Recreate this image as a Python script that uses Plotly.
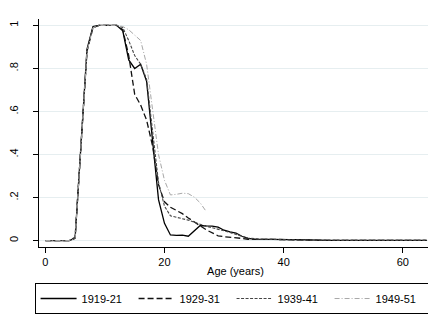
"""Proportion in school by age, four census cohorts (Stata-style line chart)."""

import plotly.graph_objects as go

AGES = list(range(0, 65))
AGES_1949 = list(range(0, 28))

TAIL = [0.006, 0.006, 0.005, 0.005, 0.005, 0.004, 0.004, 0.003, 0.002, 0.002] + [0.001] * 19

P_1919 = [0, 0, 0, 0, 0, 0.01, 0.45, 0.89, 0.995, 1.0,
          1.0, 1.0, 1.0, 0.975, 0.84, 0.80, 0.82, 0.74, 0.45, 0.19,
          0.08, 0.026, 0.024, 0.025, 0.02, 0.045, 0.07, 0.068, 0.067, 0.062,
          0.048, 0.04, 0.035, 0.02, 0.01, 0.007] + TAIL
P_1929 = [0, 0, 0, 0, 0, 0.015, 0.44, 0.88, 0.99, 1.0,
          1.0, 1.0, 1.0, 0.98, 0.86, 0.68, 0.63, 0.56, 0.44, 0.26,
          0.18, 0.155, 0.14, 0.125, 0.105, 0.085, 0.068, 0.05, 0.035, 0.022,
          0.018, 0.016, 0.013, 0.01, 0.006, 0.005] + TAIL
P_1939 = [0, 0, 0, 0, 0, 0.01, 0.43, 0.88, 0.99, 1.0,
          1.0, 1.0, 1.0, 0.99, 0.93, 0.86, 0.82, 0.75, 0.50, 0.27,
          0.16, 0.115, 0.108, 0.103, 0.095, 0.085, 0.075, 0.066, 0.06, 0.054,
          0.045, 0.037, 0.03, 0.02, 0.012, 0.008] + TAIL
P_1949 = [0, 0, 0, 0, 0, 0.01, 0.44, 0.88, 0.99, 1.0,
          1.0, 1.0, 1.0, 0.995, 0.98, 0.955, 0.93, 0.82, 0.62, 0.40,
          0.28, 0.212, 0.215, 0.22, 0.218, 0.202, 0.175, 0.135]

X_TICKS = [0, 20, 40, 60]
Y_TICKS = [0, 0.2, 0.4, 0.6, 0.8, 1.0]
Y_LABELS = ['0', '.2', '.4', '.6', '.8', '1']

FONT = 'Liberation Sans, Arial, sans-serif'

SERIES = [
    ('1919-21', AGES, P_1919, dict(color='#000000', width=1.3, dash='solid')),
    ('1929-31', AGES, P_1929, dict(color='#111111', width=1.3, dash='6px,3px')),
    ('1939-41', AGES, P_1939, dict(color='#444444', width=1.1, dash='3px,1.5px')),
    ('1949-51', AGES_1949, P_1949, dict(color='#a8a8a8', width=1.0, dash='5px,2px,1px,2px')),
]

fig = go.Figure()
for name, x, y, line in SERIES:
    fig.add_trace(go.Scatter(x=x, y=y, mode='lines', name=name, line=line))

fig.update_layout(
    width=436,
    height=317,
    margin=dict(l=31, r=12, t=11, b=72),
    paper_bgcolor='white',
    plot_bgcolor='white',
    font=dict(family=FONT, size=11, color='#000000'),
    showlegend=True,
    legend=dict(
        orientation='h',
        x=0.49, xanchor='center',
        y=-0.158, yanchor='top',
        bordercolor='#000000', borderwidth=1,
        font=dict(size=11),
        entrywidth=47, entrywidthmode='pixels',
        itemwidth=36,
        tracegroupgap=0,
    ),
)
fig.update_xaxes(
    range=[-1.06, 64.9],
    automargin=False,
    tickmode='array', tickvals=X_TICKS,
    ticks='outside', ticklen=5, tickcolor='#000000',
    showline=True, linecolor='#000000', linewidth=1,
    showgrid=False, zeroline=False,
    title=dict(text='Age (years)', standoff=0, font=dict(size=11)),
    tickfont=dict(size=11),
)
fig.update_yaxes(
    range=[-0.03, 1.03],
    automargin=False,
    tickmode='array', tickvals=Y_TICKS, ticktext=Y_LABELS,
    tickangle=-90,
    ticks='outside', ticklen=5, tickcolor='#000000',
    ticklabelstandoff=11,
    showline=True, linecolor='#000000', linewidth=1,
    showgrid=True, gridcolor='#e6eef0', gridwidth=1, zeroline=False,
    tickfont=dict(size=11),
)

fig.write_html('out.html')
